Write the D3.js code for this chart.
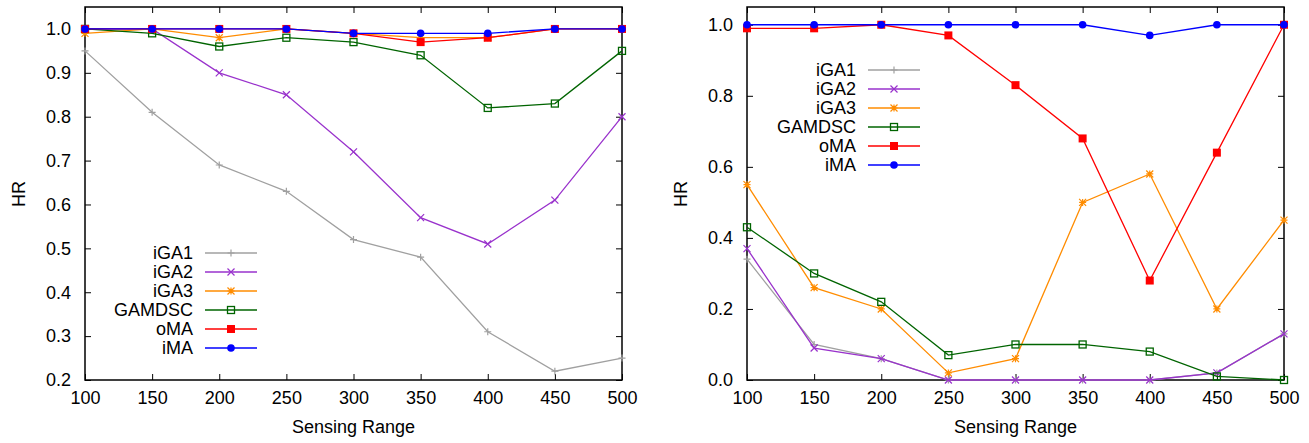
<!DOCTYPE html>
<html>
<head>
<meta charset="utf-8">
<script src="https://cdn.jsdelivr.net/npm/d3@7"></script>
<style>
  body { margin: 0; background: #fff; }
  text { font-family: "Liberation Sans", Arial, sans-serif; }
</style>
</head>
<body>
<div id="chart"></div>
<script>
// Sensing range values on the x axis
var ranges = [100, 150, 200, 250, 300, 350, 400, 450, 500];
var seriesNames = ["iGA1", "iGA2", "iGA3", "GAMDSC", "oMA", "iMA"];

// Left panel
var leftIGA1 = [0.95, 0.81, 0.69, 0.63, 0.52, 0.48, 0.31, 0.22, 0.25];
var leftIGA2 = [1.0, 1.0, 0.90, 0.85, 0.72, 0.57, 0.51, 0.61, 0.80];
var leftIGA3 = [0.99, 1.0, 0.98, 1.0, 0.99, 0.98, 0.98, 1.0, 1.0];
var leftGAMDSC = [1.0, 0.99, 0.96, 0.98, 0.97, 0.94, 0.82, 0.83, 0.95];
var leftOMA = [1.0, 1.0, 1.0, 1.0, 0.99, 0.97, 0.98, 1.0, 1.0];
var leftIMA = [1.0, 1.0, 1.0, 1.0, 0.99, 0.99, 0.99, 1.0, 1.0];
var leftTicks = [0.2, 0.3, 0.4, 0.5, 0.6, 0.7, 0.8, 0.9, 1.0];

// Right panel
var rightIGA1 = [0.34, 0.10, 0.06, 0.0, 0.0, 0.0, 0.0, 0.02, 0.13];
var rightIGA2 = [0.37, 0.09, 0.06, 0.0, 0.0, 0.0, 0.0, 0.02, 0.13];
var rightIGA3 = [0.55, 0.26, 0.20, 0.02, 0.06, 0.50, 0.58, 0.20, 0.45];
var rightGAMDSC = [0.43, 0.30, 0.22, 0.07, 0.10, 0.10, 0.08, 0.01, 0.0];
var rightOMA = [0.99, 0.99, 1.0, 0.97, 0.83, 0.68, 0.28, 0.64, 1.0];
var rightIMA = [1.0, 1.0, 1.0, 1.0, 1.0, 1.0, 0.97, 1.0, 1.0];
var rightTicks = [0.0, 0.2, 0.4, 0.6, 0.8, 1.0];

var colors = ["#a0a0a0", "#9932cc", "#ff8c00", "#006400", "#ff0000", "#0000ff"];
var markers = ["plus", "cross", "star", "boxOpen", "box", "circle"];

var svg = d3.select("#chart").append("svg")
  .attr("width", 1309)
  .attr("height", 443);

function drawMarker(g, type, x, y, color) {
  var s = 3.5;
  if (type === "plus") {
    g.append("path").attr("d", `M${x - s},${y}H${x + s}M${x},${y - s}V${y + s}`)
      .attr("stroke", color).attr("stroke-width", 1.2);
  } else if (type === "cross") {
    g.append("path").attr("d", `M${x - s},${y - s}L${x + s},${y + s}M${x - s},${y + s}L${x + s},${y - s}`)
      .attr("stroke", color).attr("stroke-width", 1.2);
  } else if (type === "star") {
    g.append("path").attr("d", `M${x - s},${y}H${x + s}M${x},${y - s}V${y + s}M${x - s},${y - s}L${x + s},${y + s}M${x - s},${y + s}L${x + s},${y - s}`)
      .attr("stroke", color).attr("stroke-width", 1.2);
  } else if (type === "boxOpen") {
    g.append("rect").attr("x", x - s).attr("y", y - s).attr("width", 2 * s).attr("height", 2 * s)
      .attr("fill", "none").attr("stroke", color).attr("stroke-width", 1.3);
  } else if (type === "box") {
    g.append("rect").attr("x", x - 4).attr("y", y - 4).attr("width", 8).attr("height", 8)
      .attr("fill", color);
  } else {
    g.append("circle").attr("cx", x).attr("cy", y).attr("r", 3.8).attr("fill", color);
  }
}

function drawPanel(opts) {
  var x = d3.scaleLinear().domain([100, 500]).range([opts.left, opts.right]);
  var y = d3.scaleLinear().domain(opts.domain).range([380, 7]);
  var g = svg.append("g");

  // ticks, mirrored on all sides, pointing inward
  g.append("g").attr("transform", "translate(0,380)")
    .call(d3.axisBottom(x).tickValues(ranges).tickSizeInner(-6).tickSizeOuter(0).tickPadding(11));
  g.append("g").attr("transform", "translate(0,7)")
    .call(d3.axisTop(x).tickValues(ranges).tickSizeInner(-6).tickSizeOuter(0).tickFormat(""));
  g.append("g").attr("transform", "translate(" + opts.left + ",0)")
    .call(d3.axisLeft(y).tickValues(opts.ticks).tickSizeInner(-6).tickSizeOuter(0).tickPadding(14).tickFormat(d3.format(".1f")));
  g.append("g").attr("transform", "translate(" + opts.right + ",0)")
    .call(d3.axisRight(y).tickValues(opts.ticks).tickSizeInner(-6).tickSizeOuter(0).tickFormat(""));
  g.selectAll(".domain").remove();
  g.selectAll(".tick line").attr("stroke", "#000");
  g.selectAll(".tick text").attr("fill", "#000").style("font-size", "18px")
    .style("font-family", "'Liberation Sans', Arial, sans-serif");

  g.append("rect").attr("x", opts.left).attr("y", 7)
    .attr("width", opts.right - opts.left).attr("height", 373)
    .attr("fill", "none").attr("stroke", "#000").attr("stroke-width", 1.5);

  var line = d3.line().x((d, i) => x(ranges[i])).y(d => y(d));
  opts.series.forEach(function (vals, k) {
    g.append("path").datum(vals).attr("d", line)
      .attr("fill", "none").attr("stroke", colors[k]).attr("stroke-width", 1.3);
    vals.forEach(function (v, i) {
      drawMarker(g, markers[k], x(ranges[i]), y(v), colors[k]);
    });
  });

  // legend
  seriesNames.forEach(function (name, k) {
    var ly = opts.legY + k * 19;
    g.append("text").attr("x", opts.legX).attr("y", ly).attr("dy", "0.35em")
      .attr("text-anchor", "end").style("font-size", "18px").text(name);
    g.append("line").attr("x1", opts.legX + 12).attr("x2", opts.legX + 64)
      .attr("y1", ly).attr("y2", ly).attr("stroke", colors[k]).attr("stroke-width", 1.3);
    drawMarker(g, markers[k], opts.legX + 38, ly, colors[k]);
  });

  g.append("text").attr("x", (opts.left + opts.right) / 2).attr("y", 433)
    .attr("text-anchor", "middle").style("font-size", "18px").text("Sensing Range");
  g.append("text").attr("transform", "translate(" + (opts.left - 66) + ",194)rotate(-90)")
    .attr("text-anchor", "middle").attr("dy", "0.35em").style("font-size", "18px").text("HR");
}

drawPanel({
  left: 85, right: 622, domain: [0.2, 1.05], ticks: leftTicks,
  series: [leftIGA1, leftIGA2, leftIGA3, leftGAMDSC, leftOMA, leftIMA],
  legX: 193, legY: 253
});

drawPanel({
  left: 747, right: 1284, domain: [0.0, 1.05], ticks: rightTicks,
  series: [rightIGA1, rightIGA2, rightIGA3, rightGAMDSC, rightOMA, rightIMA],
  legX: 856, legY: 70
});
</script>
</body>
</html>
